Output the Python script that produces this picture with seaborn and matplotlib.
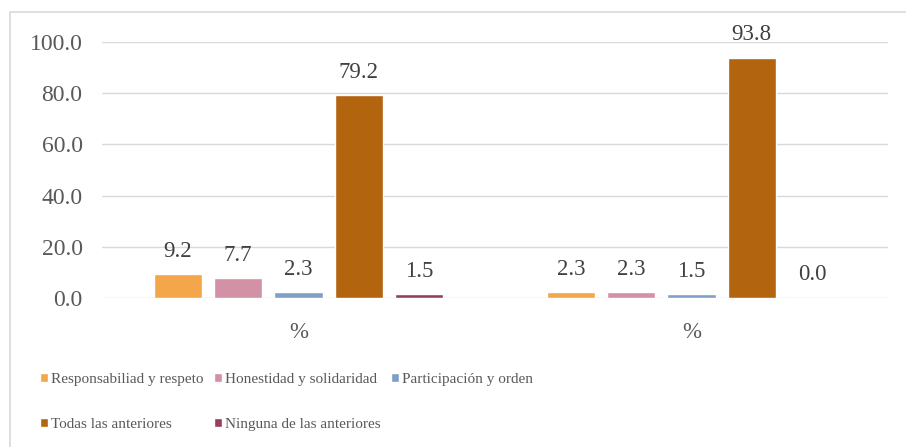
import matplotlib
matplotlib.use("Agg")
import matplotlib.pyplot as plt
import seaborn as sns
import pandas as pd
from matplotlib.patches import Rectangle

# data
groups = ["g1", "g2"]
tick_labels = ["%", "%"]
series = ["Responsabiliad y respeto", "Honestidad y solidaridad",
          "Participación y orden", "Todas las anteriores",
          "Ninguna de las anteriores"]
values_g1 = [9.2, 7.7, 2.3, 79.2, 1.5]
values_g2 = [2.3, 2.3, 1.5, 93.8, 0.0]
colors = ["#F3A64A", "#D291A5", "#7F9FC7", "#B3640F", "#983D5C"]

rows = []
for s, v1, v2 in zip(series, values_g1, values_g2):
    rows.append({"grupo": groups[0], "serie": s, "valor": v1})
    rows.append({"grupo": groups[1], "serie": s, "valor": v2})
df = pd.DataFrame(rows)

sns.set_theme(style="white")
plt.rcParams["font.family"] = ["Liberation Serif", "DejaVu Serif"]
text_col = "#595959"

fig = plt.figure(figsize=(9.06, 4.47), dpi=100)
ax = fig.add_axes([102 / 906, 149 / 447, 786 / 906, 256 / 447])

sns.barplot(data=df, x="grupo", y="valor", hue="serie", order=groups,
            hue_order=series, palette=colors, width=0.767, gap=0.2,
            saturation=1, ax=ax, legend=True)

for cont in ax.containers:
    ax.bar_label(cont, fmt="%.1f", padding=9, fontsize=16.5, color="#404040")

ax.set_ylim(0, 100)
ax.set_yticks([0, 20, 40, 60, 80, 100])
ax.set_yticklabels([f"{t:.1f}" for t in [0, 20, 40, 60, 80, 100]])
ax.set_xticks([0, 1])
ax.set_xticklabels(tick_labels)
ax.set_xlabel("")
ax.set_ylabel("")
ax.tick_params(axis="y", length=0, pad=14, labelsize=17, labelcolor=text_col)
ax.tick_params(axis="x", length=0, pad=17, labelsize=16.5, labelcolor=text_col)
ax.yaxis.grid(True, color="#D9D9D9", linewidth=1)
ax.set_axisbelow(True)
for sp in ax.spines.values():
    sp.set_visible(False)

# legend filled row by row like the original (matplotlib fills by column)
handles, labels = ax.get_legend_handles_labels()
ax.legend_.remove()
order = [0, 3, 1, 4, 2]
fig.legend([handles[i] for i in order], [labels[i] for i in order],
           loc="upper left", bbox_to_anchor=(40 / 906, 1 - 373 / 447),
           ncol=3, frameon=False, fontsize=11, handlelength=0.55,
           handleheight=0.55, handletextpad=0.15, columnspacing=0.7,
           labelspacing=2.1, labelcolor=text_col, borderaxespad=0,
           borderpad=0)

# light frame around the chart area
fig.patches.append(Rectangle((10 / 906, -0.05), 1.0, 1 - 12 / 447 + 0.05,
                             transform=fig.transFigure, fill=False,
                             edgecolor="#D9D9D9", linewidth=1.2, zorder=0))

fig.savefig("out.png", dpi=100)
